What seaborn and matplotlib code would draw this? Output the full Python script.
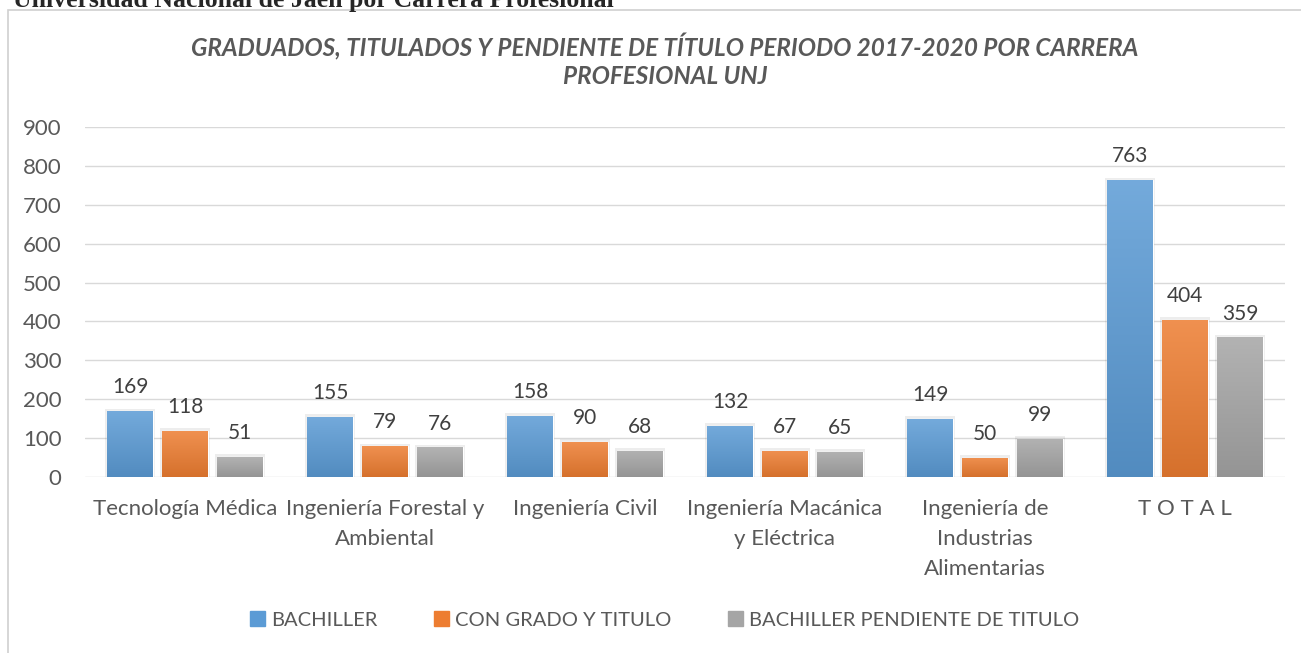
import numpy as np
import pandas as pd
import matplotlib.pyplot as plt
import matplotlib.colors as mcolors
from matplotlib.patches import Rectangle
import seaborn as sns

carreras = ['Tecnología Médica', 'Ingeniería Forestal y\nAmbiental', 'Ingeniería Civil',
            'Ingeniería Macánica\ny Eléctrica', 'Ingeniería de\nIndustrias\nAlimentarias', 'T O T A L']
bachiller = [169, 155, 158, 132, 149, 763]
con_titulo = [118, 79, 90, 67, 50, 404]
pendiente = [51, 76, 68, 65, 99, 359]
series = ['BACHILLER', 'CON GRADO Y TITULO', 'BACHILLER PENDIENTE DE TITULO']
colores = ['#5B9BD5', '#ED7D31', '#A5A5A5']

df = pd.DataFrame({'carrera': carreras, series[0]: bachiller,
                   series[1]: con_titulo, series[2]: pendiente})
df = df.melt(id_vars='carrera', var_name='serie', value_name='valor')

sns.set_theme(style='white')
plt.rcParams['font.family'] = ['Lato', 'DejaVu Sans']
gris = '#595959'

fig = plt.figure(figsize=(13.01, 6.53), dpi=100)
# marco del grafico (solo se ven el borde izquierdo y el superior)
fig.patches.append(Rectangle((8 / 1301, -0.1), 1.2, 1 - 10 / 653 + 0.1,
                             transform=fig.transFigure, fill=False,
                             edgecolor='#d0d0d0', linewidth=1.2, zorder=0))
# texto del documento, cortado arriba
fig.text(13 / 1301, 1 - 7 / 653, 'Universidad Nacional de Jaén por Carrera Profesional',
         family='Liberation Serif', weight='bold', fontsize=18.5, ha='left', va='baseline')

ax = fig.add_axes([85 / 1301, 176 / 653, 1200 / 1301, 350 / 653])
sns.barplot(data=df, x='carrera', y='valor', hue='serie', palette=colores,
            width=0.825, ax=ax, saturation=1, legend=True, zorder=3)

# barras algo mas estrechas, con degradado tipo Excel
for cont, col in zip(ax.containers, colores):
    base = np.array(mcolors.to_rgb(col))
    claro = base + (1 - base) * 0.15
    oscuro = base * 0.9
    grad = np.linspace(0, 1, 100)[:, None, None] * (claro - oscuro) + oscuro
    for p in cont:
        w = p.get_width()
        p.set_x(p.get_x() + w * 0.082)
        p.set_width(w * 0.836)
        sombra = Rectangle((p.get_x() - 0.01, 0), p.get_width() + 0.02, p.get_height() + 7,
                           facecolor='#000000', alpha=0.07, edgecolor='none', zorder=2)
        ax.add_patch(sombra)
        im = ax.imshow(grad, extent=[p.get_x(), p.get_x() + p.get_width(), 0, p.get_height()],
                       aspect='auto', origin='lower', zorder=3.5)
        im.set_clip_path(p)
    ax.bar_label(cont, padding=10, fontsize=15, color='#404040')

ax.set_xlim(-0.5, 5.5)
ax.set_ylim(0, 900)
ax.set_yticks(range(0, 901, 100))
ax.grid(axis='y', color='#d9d9d9', linewidth=1, zorder=0)
ax.set_axisbelow(True)
sns.despine(ax=ax, left=True, bottom=True)
ax.set_xlabel('')
ax.set_ylabel('')
ax.tick_params(axis='both', length=0, labelsize=16, colors=gris)
ax.tick_params(axis='x', pad=16)
ax.tick_params(axis='y', pad=17)
for lbl in ax.get_xticklabels():
    lbl.set_linespacing(1.62)

ax.get_legend().remove()
handles = [Rectangle((0, 0), 1, 1, color=c) for c in colores]
fig.legend(handles, series, loc='center', bbox_to_anchor=(665 / 1301, 1 - 620 / 653), ncol=3,
           frameon=False, fontsize=14.5, labelcolor=gris, handlelength=0.75,
           handleheight=0.75, handletextpad=0.3, columnspacing=2.8)

titulo_1 = 'GRADUADOS, TITULADOS Y PENDIENTE DE TÍTULO PERIODO 2017-2020 POR CARRERA'
titulo_2 = 'PROFESIONAL UNJ'
fig.text(665 / 1301, 1 - 47 / 653, titulo_1, ha='center', va='center',
         fontsize=17.5, weight='bold', style='italic', color=gris)
fig.text(665 / 1301, 1 - 77 / 653, titulo_2, ha='center', va='center',
         fontsize=17.5, weight='bold', style='italic', color=gris)

fig.savefig('out.png', dpi=100)
